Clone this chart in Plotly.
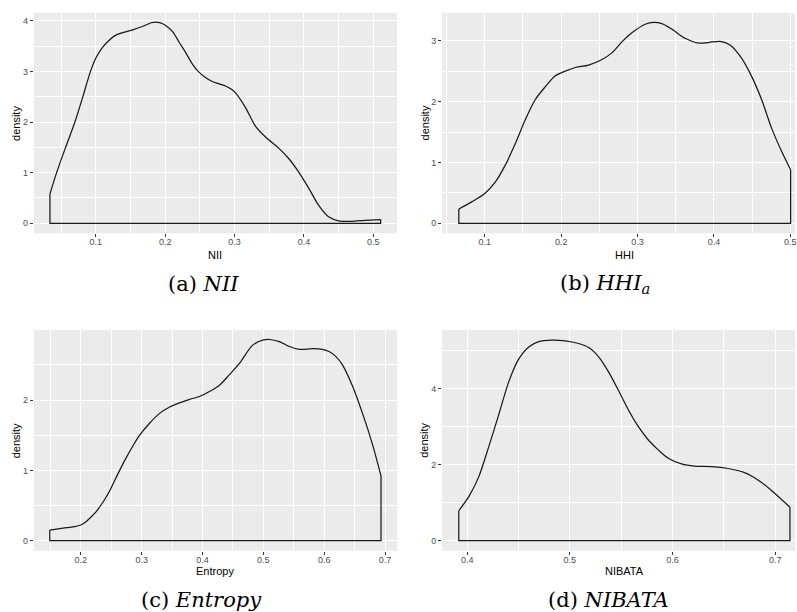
import plotly.graph_objects as go

W, H = 797, 612

# ---------------- data ----------------
nii_x = [0.034, 0.0436, 0.056, 0.070, 0.0814, 0.0924, 0.100, 0.107, 0.1153, 0.1296,
         0.1535, 0.168, 0.180, 0.187, 0.1965, 0.204, 0.211, 0.220, 0.230, 0.240,
         0.249, 0.258, 0.268, 0.287, 0.296, 0.3017, 0.316, 0.330, 0.345, 0.364,
         0.378, 0.392, 0.407, 0.421, 0.4355, 0.450, 0.469, 0.488, 0.5105]
nii_d = [0.58, 1.00, 1.48, 2.00, 2.50, 3.00, 3.26, 3.42, 3.56, 3.72,
         3.82, 3.89, 3.96, 3.97, 3.94, 3.87, 3.78, 3.58, 3.36, 3.13,
         2.98, 2.88, 2.80, 2.71, 2.64, 2.57, 2.28, 1.92, 1.70, 1.48,
         1.28, 1.02, 0.69, 0.36, 0.13, 0.05, 0.04, 0.06, 0.075]

hhi_x = [0.066, 0.0834, 0.100, 0.1139, 0.127, 0.140, 0.153, 0.166, 0.179, 0.192,
         0.2054, 0.2185, 0.236, 0.2534, 0.2664, 0.2795, 0.2926, 0.310, 0.3209, 0.3318,
         0.3449, 0.3623, 0.3797, 0.3928, 0.408, 0.4211, 0.4364, 0.4495, 0.4625, 0.4756,
         0.4887, 0.5004]
hhi_d = [0.235, 0.356, 0.49, 0.68, 0.96, 1.31, 1.70, 2.03, 2.24, 2.42,
         2.50, 2.56, 2.60, 2.69, 2.80, 2.98, 3.13, 3.27, 3.30, 3.28,
         3.19, 3.04, 2.96, 2.97, 2.99, 2.93, 2.71, 2.41, 2.03, 1.56,
         1.18, 0.88]

ent_x = [0.149, 0.1765, 0.190, 0.200, 0.207, 0.2148, 0.225, 0.2366, 0.2475, 0.261,
         0.274, 0.2858, 0.2967, 0.313, 0.3295, 0.346, 0.362, 0.379, 0.395, 0.4115,
         0.4279, 0.4443, 0.4607, 0.4825, 0.499, 0.510, 0.5265, 0.543, 0.559, 0.581,
         0.597, 0.608, 0.619, 0.630, 0.646, 0.663, 0.679, 0.6934]
ent_d = [0.152, 0.185, 0.20, 0.223, 0.26, 0.32, 0.41, 0.55, 0.71, 0.95,
         1.17, 1.35, 1.50, 1.67, 1.81, 1.90, 1.96, 2.01, 2.05, 2.12,
         2.21, 2.36, 2.52, 2.78, 2.85, 2.86, 2.83, 2.76, 2.72, 2.73,
         2.72, 2.69, 2.62, 2.50, 2.21, 1.81, 1.38, 0.92]

nib_x = [0.3919, 0.4016, 0.4113, 0.421, 0.4307, 0.4405, 0.450, 0.460, 0.4696, 0.4825,
         0.4955, 0.5084, 0.518, 0.528, 0.5375, 0.5472, 0.557, 0.5667, 0.5764, 0.586,
         0.5958, 0.6087, 0.6217, 0.6379, 0.654, 0.670, 0.683, 0.696, 0.7142]
nib_d = [0.79, 1.16, 1.68, 2.47, 3.31, 4.18, 4.77, 5.10, 5.24, 5.28,
         5.26, 5.19, 5.09, 4.84, 4.45, 3.96, 3.44, 3.00, 2.65, 2.39,
         2.17, 2.02, 1.96, 1.95, 1.90, 1.79, 1.60, 1.33, 0.88]

x_titles = ["NII", "HHI", "Entropy", "NIBATA"]
y_title = "density"
captions = ["(a) <i>NII</i>", "(b) <i>HHI</i><sub><i>a</i></sub>",
            "(c) <i>Entropy</i>", "(d) <i>NIBATA</i>"]

# ---------------- layout config (pixels) ----------------
panels = [
    dict(x=nii_x, d=nii_d, px=(34, 398), py=(12.7, 233.3),
         xr=(0.01089, 0.53406), yr=(-0.197, 4.158), ydt=1, ymin=0.5,
         cap_x=204, cap_y=284, xt_x=216, xt_y=255, yt_x=16),
    dict(x=hhi_x, d=hhi_d, px=(443.3, 797), py=(12.7, 233.3),
         xr=(0.04424, 0.50614), yr=(-0.164, 3.46), ydt=1, ymin=0.5,
         cap_x=607, cap_y=284, xt_x=626.5, xt_y=255, yt_x=426.5),
    dict(x=ent_x, d=ent_d, px=(34, 398.3), py=(330, 550.7),
         xr=(0.12295, 0.72016), yr=(-0.142, 2.995), ydt=1, ymin=0.5,
         cap_x=202, cap_y=600, xt_x=216, xt_y=571, yt_x=16),
    dict(x=nib_x, d=nib_d, px=(443.3, 797), py=(330, 550.7),
         xr=(0.37573, 0.71913), yr=(-0.263, 5.545), ydt=2, ymin=1,
         cap_x=610, cap_y=600, xt_x=626.5, xt_y=571, yt_x=425.5),
]

LINE = "#1a1a1a"
fig = go.Figure()
annotations = []
layout = {}

for i, p in enumerate(panels):
    n = "" if i == 0 else str(i + 1)
    xa, ya = "x" + n, "y" + n
    xs, ds = p["x"], p["d"]
    # smooth density curve
    fig.add_trace(go.Scatter(x=xs, y=ds, mode="lines", xaxis=xa, yaxis=ya,
                             line=dict(color=LINE, width=1.25, shape="spline", smoothing=0.85),
                             showlegend=False, hoverinfo="skip"))
    # closing edges of the density polygon
    fig.add_trace(go.Scatter(x=[xs[0], xs[0], xs[-1], xs[-1]], y=[ds[0], 0, 0, ds[-1]],
                             mode="lines", xaxis=xa, yaxis=ya,
                             line=dict(color=LINE, width=1.25),
                             showlegend=False, hoverinfo="skip"))

    x0, x1 = p["px"]
    y0, y1 = p["py"]
    common = dict(showline=False, zeroline=False, showgrid=True, gridcolor="white",
                  gridwidth=1.1, ticks="outside", ticklen=3, tickwidth=1, tickcolor="#333333",
                  tickfont=dict(family="Liberation Sans, Arial", size=9, color="#4D4D4D"),
                  ticklabeloverflow="allow", fixedrange=True)
    layout["xaxis" + n] = dict(common, domain=[x0 / W, x1 / W], range=list(p["xr"]),
                               anchor=ya, tick0=0, dtick=0.1, ticklabelstandoff=-3,
                               minor=dict(tick0=0, dtick=0.05, showgrid=True,
                                          gridcolor="white", gridwidth=0.5, ticks=""))
    layout["yaxis" + n] = dict(common, domain=[1 - y1 / H, 1 - y0 / H], range=list(p["yr"]),
                               anchor=xa, tick0=0, dtick=p["ydt"],
                               minor=dict(tick0=0, dtick=p["ymin"], showgrid=True,
                                          gridcolor="white", gridwidth=0.5, ticks=""))
    # axis titles
    annotations.append(dict(text=x_titles[i], x=p["xt_x"] / W,
                            y=1 - p["xt_y"] / H, xref="paper", yref="paper",
                            showarrow=False, xanchor="center", yanchor="middle",
                            font=dict(family="Liberation Sans, Arial", size=11, color="black")))
    annotations.append(dict(text=y_title, x=p["yt_x"] / W, y=1 - (y0 + y1) / 2 / H,
                            xref="paper", yref="paper", textangle=-90,
                            showarrow=False, xanchor="center", yanchor="middle",
                            font=dict(family="Liberation Sans, Arial", size=11, color="black")))
    # sub-figure captions
    annotations.append(dict(text=captions[i], x=p["cap_x"] / W, y=1 - p["cap_y"] / H,
                            xref="paper", yref="paper", showarrow=False,
                            xanchor="center", yanchor="middle",
                            font=dict(family="DejaVu Serif", size=21, color="black")))

fig.update_layout(width=W, height=H, margin=dict(l=0, r=0, t=0, b=0),
                  paper_bgcolor="white", plot_bgcolor="#EBEBEB",
                  annotations=annotations, **layout)

fig.write_html("out.html", config={"displayModeBar": False},
               post_script="document.body.style.margin='0px';document.body.style.padding='0px';")
